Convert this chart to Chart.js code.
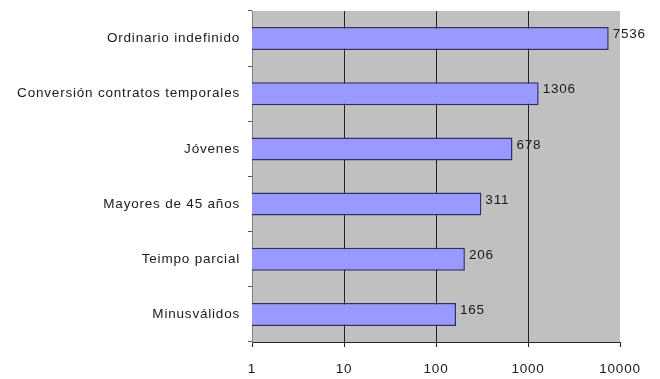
<!DOCTYPE html>
<html>
<head>
<meta charset="utf-8">
<script src="https://cdn.jsdelivr.net/npm/chart.js@4/dist/chart.umd.min.js"></script>
<style>
  html, body { margin: 0; padding: 0; background: #fff; }
  #wrap { width: 660px; height: 379px; }
</style>
</head>
<body>
<div id="wrap"><canvas id="c" width="660" height="379"></canvas></div>
<script>
// Contract types and number of contracts (log scale)
const categories = [
  'Ordinario indefinido',
  'Conversión contratos temporales',
  'Jóvenes',
  'Mayores de 45 años',
  'Teimpo parcial',
  'Minusválidos'
];
const contracts = [7536, 1306, 678, 311, 206, 165];
const xTickValues = [1, 10, 100, 1000, 10000];

const FONT = { family: 'Liberation Sans, Arial, sans-serif', size: 13.5 };
const TEXT = '#1a1a1a';
const SPACING = '0.8px';

// Grey plot background plus a slightly wider letter spacing for all text
const plotBackground = {
  id: 'plotBackground',
  beforeDraw(chart) {
    const { ctx, chartArea: a } = chart;
    ctx.save();
    ctx.fillStyle = '#c0c0c0';
    ctx.fillRect(a.left, a.top, a.right - a.left, a.bottom - a.top);
    ctx.restore();
    ctx.letterSpacing = SPACING;
  }
};

// Value printed just to the right of each bar
const valueLabels = {
  id: 'valueLabels',
  afterDatasetsDraw(chart) {
    const { ctx } = chart;
    const meta = chart.getDatasetMeta(0);
    ctx.save();
    ctx.letterSpacing = SPACING;
    ctx.font = `${FONT.size}px ${FONT.family}`;
    ctx.fillStyle = TEXT;
    ctx.textAlign = 'left';
    ctx.textBaseline = 'middle';
    meta.data.forEach((bar, i) => {
      ctx.fillText(String(contracts[i]), bar.x + 4, bar.y - 4);
    });
    ctx.restore();
  }
};

new Chart(document.getElementById('c'), {
  type: 'bar',
  data: {
    labels: categories,
    datasets: [{
      data: contracts,
      backgroundColor: '#9999ff',
      borderColor: '#2e2e6e',
      borderWidth: 1.5,
      borderSkipped: 'start',
      categoryPercentage: 0.8,
      barPercentage: 0.52
    }]
  },
  options: {
    indexAxis: 'y',
    responsive: false,
    animation: false,
    events: [],
    layout: { padding: { top: 11, right: 40, left: 0, bottom: 0 } },
    plugins: { legend: { display: false }, tooltip: { enabled: false } },
    scales: {
      x: {
        type: 'logarithmic',
        min: 1,
        max: 10000,
        afterBuildTicks(axis) {
          axis.ticks = xTickValues.map(v => ({ value: v, major: true }));
        },
        afterFit(axis) { axis.height = 37; },
        border: { display: true, color: '#222', width: 1 },
        grid: {
          display: true,
          drawOnChartArea: true,
          drawTicks: true,
          tickLength: 5,
          color: ctx => (ctx.tick && (ctx.tick.value === 1 || ctx.tick.value === 10000)) ? 'rgba(0,0,0,0)' : '#222',
          tickColor: '#222',
          lineWidth: 1
        },
        ticks: {
          color: TEXT,
          font: FONT,
          padding: 14,
          maxRotation: 0,
          autoSkip: false,
          callback: v => String(v)
        }
      },
      y: {
        type: 'category',
        offset: true,
        afterFit(axis) {
          axis.width = 252;
          axis.paddingTop = 0;
          axis.paddingBottom = 0;
        },
        border: { display: true, color: '#808080', width: 1 },
        grid: {
          offset: true,
          drawOnChartArea: false,
          drawTicks: true,
          tickLength: 4,
          tickColor: '#555'
        },
        ticks: {
          color: TEXT,
          font: FONT,
          padding: 8,
          crossAlign: 'near'
        }
      }
    }
  },
  plugins: [plotBackground, valueLabels]
});
</script>
</body>
</html>
